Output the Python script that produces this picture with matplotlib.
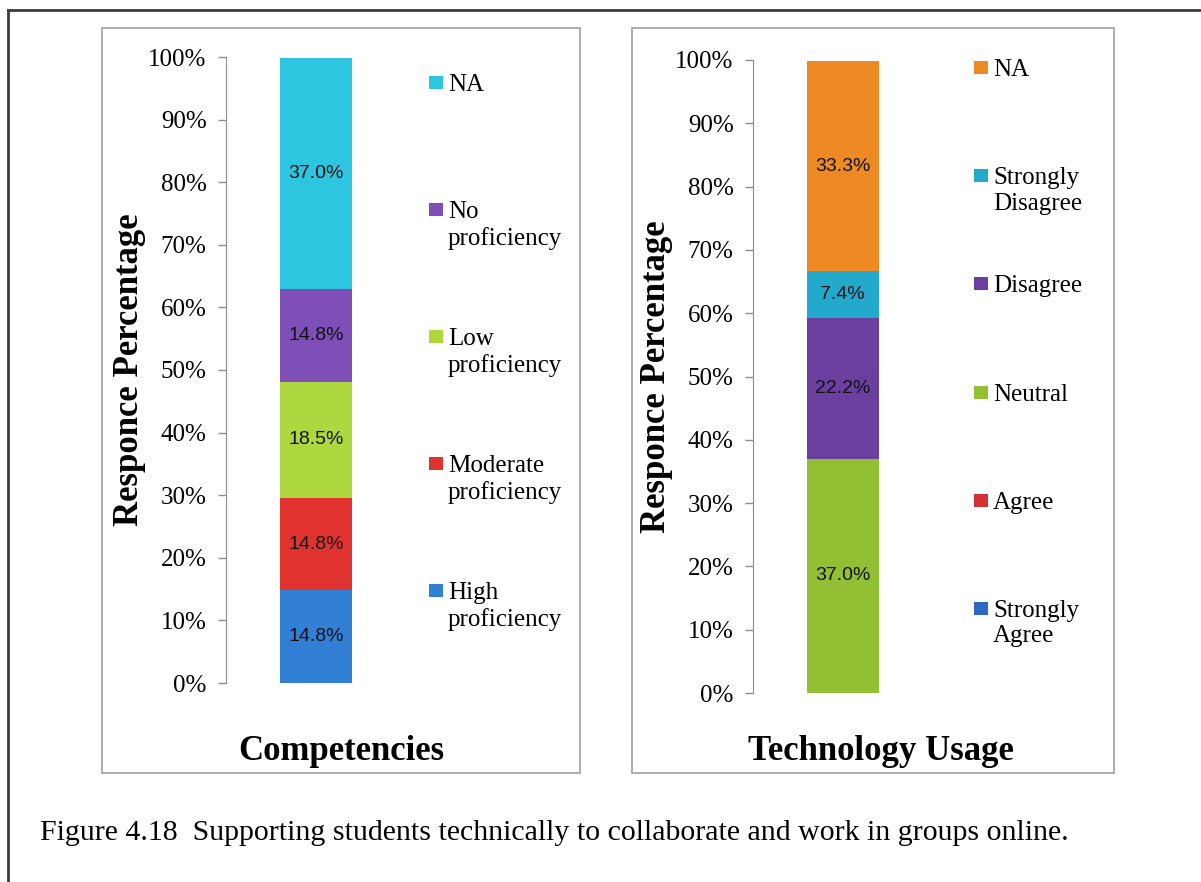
#Figure 4.18: two 100% stacked bars (Competencies / Technology Usage)

import matplotlib
matplotlib.use("Agg")
import matplotlib.pyplot as plt
from matplotlib.patches import Rectangle
from matplotlib.lines import Line2D
from matplotlib.ticker import PercentFormatter

# dades llegides de la figura
comp_labels = ["High\nproficiency", "Moderate\nproficiency", "Low\nproficiency", "No\nproficiency", "NA"]
comp_values = [14.8, 14.8, 18.5, 14.8, 37.0]
comp_colors = ["#3180d6", "#e0332f", "#afd73f", "#7e4fb7", "#2dc5df"]

tech_labels = ["Strongly\nAgree", "Agree", "Neutral", "Disagree", "Strongly\nDisagree", "NA"]
tech_values = [0.0, 0.0, 37.0, 22.2, 7.4, 33.3]
tech_colors = ["#2e68c4", "#d23232", "#92bf34", "#6a3fa0", "#22a9cc", "#ee8a24"]

yticks = [0, 10, 20, 30, 40, 50, 60, 70, 80, 90, 100]

serif = "Liberation Serif"
label_font = ["Liberation Sans", "DejaVu Sans"]

W, H = 1201, 882
fig = plt.figure(figsize=(W / 100, H / 100), dpi=100)


def px_box(x0, y0, x1, y1):
    # pixels de la imatge -> fraccio de figura
    return [x0 / W, 1 - y1 / H, (x1 - x0) / W, (y1 - y0) / H]


# marc exterior (tallat a la dreta i a baix)
fig.add_artist(Line2D([8 / W, 8 / W], [0, 1 - 10 / H], color="#3c3c3c", lw=2))
fig.add_artist(Line2D([8 / W, 1], [1 - 10 / H, 1 - 10 / H], color="#3c3c3c", lw=2))

# caixes dels dos grafics
for b in [px_box(102, 28, 580, 773), px_box(632, 28, 1114, 773)]:
    fig.add_artist(Rectangle((b[0], b[1]), b[2], b[3], transform=fig.transFigure,
                             fill=False, edgecolor="#a6a6a6", lw=1.3))


def legend(labels, colors, x_mark, y_first, step):
    # llegenda a ma: el quadrat queda alineat amb la primera linia del text
    for i, (lab, c) in enumerate(zip(labels[::-1], colors[::-1])):
        yc = y_first + i * step
        fig.add_artist(Rectangle((x_mark / W, 1 - (yc + 7) / H), 14 / W, 13 / H,
                                 transform=fig.transFigure, facecolor=c, edgecolor="none"))
        fig.text((x_mark + 19) / W, 1 - (yc - 8) / H, lab, family=serif, fontsize=18,
                 va="top", ha="left", linespacing=1.2)


def stacked(ax, values, colors, xlabel, xlab_pos, ylab_x):
    bottom = 0
    for v, c in zip(values, colors):
        bars = ax.bar(0, v, bottom=bottom, width=0.8, color=c)
        if v > 0:
            ax.bar_label(bars, labels=["%.1f%%" % v], label_type="center",
                         fontsize=14, family=label_font, color="#111111")
        bottom += v
    ax.set_ylim(0, 100)
    ax.set_xlim(-1.0, 1.03)
    ax.set_yticks(yticks)
    ax.yaxis.set_major_formatter(PercentFormatter(decimals=0))
    for lab in ax.get_yticklabels():
        lab.set_family(serif)
        lab.set_fontsize(18)
    ax.tick_params(axis="y", direction="out", length=6, width=1, color="#8c8c8c", pad=8)
    ax.set_xticks([])
    for s in ["top", "right", "bottom"]:
        ax.spines[s].set_visible(False)
    ax.spines["left"].set_color("#8c8c8c")
    ax.set_ylabel("Responce Percentage", family=serif, fontsize=25, fontweight="bold", va="center")
    ax.yaxis.set_label_coords(ylab_x, 0.5)
    ax.set_xlabel(xlabel, family=serif, fontsize=25, fontweight="bold", va="center")
    ax.xaxis.set_label_coords(*xlab_pos)


ax1 = fig.add_axes(px_box(226, 57, 409, 683))
stacked(ax1, comp_values, comp_colors, "Competencies", (0.628, -0.110), -0.53)
legend(comp_labels, comp_colors, 429, 82, 127)

ax2 = fig.add_axes(px_box(753, 60, 935, 693))
stacked(ax2, tech_values, tech_colors, "Technology Usage", (0.703, -0.093), -0.53)
legend(tech_labels, tech_colors, 974, 67, 108.2)

fig.text(40 / W, 1 - 833 / H, "Figure 4.18  Supporting students technically to collaborate and work in groups online.",
         family=serif, fontsize=21.5, va="center", ha="left")

fig.savefig("out.png", dpi=100)
